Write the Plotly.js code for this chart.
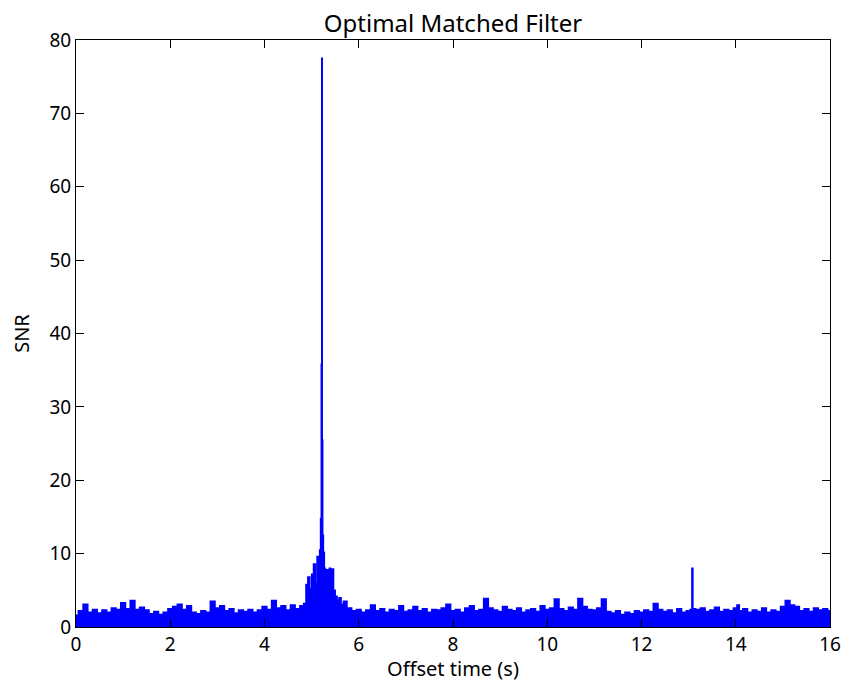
<!DOCTYPE html>
<html>
<head>
<meta charset="utf-8">
<script src="https://cdn.plot.ly/plotly-3.0.1.min.js"></script>
<style>html,body{margin:0;padding:0;background:#fff;}#chart{width:842px;height:682px;}</style>
</head>
<body>
<div id="chart"></div>
<script>
// Offset time (s) and SNR envelope
const offsetTime = [
  0.0,0.1,0.2,0.3,0.4,0.5,0.6,0.7,0.8,0.9,
  1.0,1.1,1.2,1.3,1.4,1.5,1.6,1.7,1.8,1.9,
  2.0,2.1,2.2,2.3,2.4,2.5,2.6,2.7,2.8,2.9,
  3.0,3.1,3.2,3.3,3.4,3.5,3.6,3.7,3.8,3.9,
  4.0,4.1,4.2,4.3,4.4,4.5,4.6,4.7,4.8,
  4.86,4.9,4.94,4.98,5.02,5.06,5.10,5.13,5.16,5.18,5.20,5.21,5.22,5.23,5.24,5.26,5.28,5.30,5.33,5.36,5.39,5.42,5.45,5.48,5.52,5.56,5.6,5.65,5.7,
  5.8,5.9,6.0,6.1,6.2,6.3,6.4,6.5,6.6,6.7,6.8,6.9,
  7.0,7.1,7.2,7.3,7.4,7.5,7.6,7.7,7.8,7.9,
  8.0,8.1,8.2,8.3,8.4,8.5,8.6,8.7,8.8,8.9,
  9.0,9.1,9.2,9.3,9.4,9.5,9.6,9.7,9.8,9.9,
  10.0,10.1,10.2,10.3,10.4,10.5,10.6,10.7,10.8,10.9,
  11.0,11.1,11.2,11.3,11.4,11.5,11.6,11.7,11.8,11.9,
  12.0,12.1,12.2,12.3,12.4,12.5,12.6,12.7,12.8,12.9,
  13.0,13.06,13.08,13.1,13.2,13.3,13.4,13.5,13.6,13.7,13.8,13.9,
  14.0,14.05,14.1,14.2,14.3,14.4,14.5,14.6,14.7,14.8,14.9,
  15.0,15.1,15.2,15.3,15.4,15.5,15.6,15.7,15.8,15.9,16.0
];
const snr = [
  1.6,2.2,3.1,2.0,2.4,1.9,2.3,2.0,2.6,2.4,
  3.3,2.5,3.6,2.4,2.7,2.3,1.8,2.1,1.7,2.0,
  2.5,2.8,3.1,2.4,2.9,2.0,1.8,2.2,2.0,3.5,
  2.6,2.9,2.2,2.5,1.9,2.3,2.1,2.4,2.0,2.3,
  2.8,2.4,3.6,2.6,2.9,2.3,3.0,2.5,2.9,
  3.2,5.8,6.8,5.2,7.2,8.6,6.0,9.6,7.8,10.5,14.8,35.8,77.5,25.5,12.5,10.2,8.0,6.5,7.8,5.6,8.0,7.2,7.9,5.0,4.2,3.6,4.0,3.1,3.5,
  2.6,2.2,2.4,2.0,2.3,3.0,2.2,2.5,2.0,2.4,2.2,2.9,
  2.1,2.3,2.8,2.2,2.5,2.0,2.4,2.3,2.6,3.1,
  2.2,2.4,2.0,2.6,2.9,2.2,2.4,3.9,2.6,2.3,
  2.1,2.8,2.4,2.2,2.6,2.0,2.3,2.5,2.1,2.9,
  2.4,2.6,3.8,2.5,2.2,2.7,2.4,3.9,2.8,2.4,
  2.3,2.6,3.8,2.1,1.9,2.2,1.7,2.0,1.8,2.2,
  2.0,2.3,2.1,3.2,2.4,2.1,2.3,1.9,2.5,2.0,
  2.2,2.4,8.0,2.5,2.4,2.6,2.1,2.3,2.7,2.1,2.4,2.2,
  2.6,3.0,2.2,2.5,2.0,2.3,2.1,2.6,2.0,2.3,2.1,
  2.8,3.6,3.0,2.8,2.2,2.5,2.1,2.6,2.3,2.5,2.2
];
const xTickVals = [0,2,4,6,8,10,12,14,16];
const yTickVals = [0,10,20,30,40,50,60,70,80];

const trace = {
  x: offsetTime, y: snr, type: 'scatter', mode: 'lines',
  line: {color: '#0000ff', width: 1.5, shape: 'hvh'},
  fill: 'tozeroy', fillcolor: '#0000ff',
  hoverinfo: 'x+y'
};
const fontFam = 'Noto Sans, Open Sans, DejaVu Sans, sans-serif';
const layout = {
  width: 842, height: 682,
  margin: {l: 76, r: 12, t: 40, b: 55},
  paper_bgcolor: '#fff', plot_bgcolor: '#fff',
  showlegend: false,
  font: {family: fontFam, size: 19, color: '#000'},
  title: {text: 'Optimal Matched Filter', font: {family: fontFam, size: 24, color: '#000'},
          x: 0.5, xanchor: 'center', xref: 'paper', y: 0.966, yref: 'container', yanchor: 'middle'},
  xaxis: {
    range: [0, 16], tickvals: xTickVals, ticktext: xTickVals.map(String),
    ticks: 'inside', ticklen: 8, tickcolor: '#000', tickwidth: 1,
    showline: true, linecolor: '#000', linewidth: 1, mirror: 'ticks',
    showgrid: false, zeroline: false,
    tickfont: {family: fontFam, size: 19, color: '#000'},
    title: {text: 'Offset time (s)', font: {family: fontFam, size: 20, color: '#000'}, standoff: 11}
  },
  yaxis: {
    range: [0, 80], tickvals: yTickVals, ticktext: yTickVals.map(String),
    ticks: 'inside', ticklen: 8, tickcolor: '#000', tickwidth: 1,
    showline: true, linecolor: '#000', linewidth: 1, mirror: 'ticks',
    showgrid: false, zeroline: false,
    tickfont: {family: fontFam, size: 19, color: '#000'},
    title: {text: 'SNR', font: {family: fontFam, size: 20, color: '#000'}, standoff: 14}
  }
};
Plotly.newPlot('chart', [trace], layout, {displayModeBar: false, staticPlot: true});
</script>
</body>
</html>
